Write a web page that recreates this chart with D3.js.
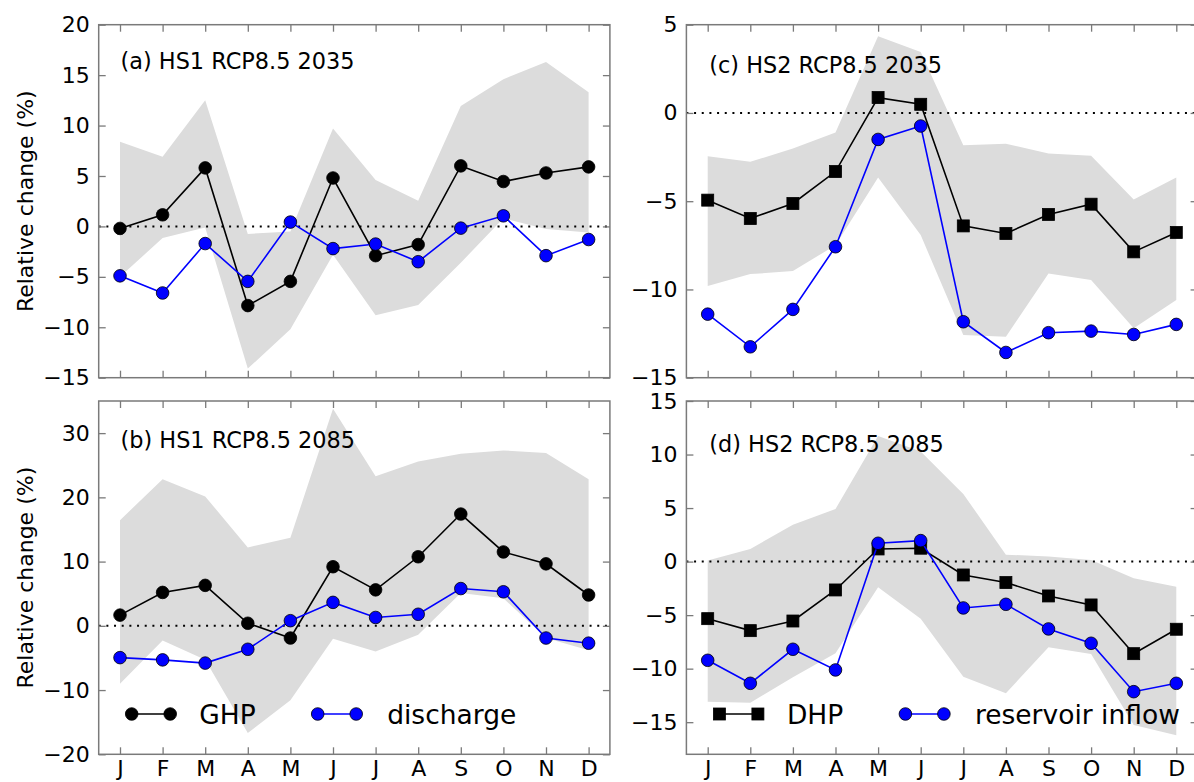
<!DOCTYPE html>
<html><head><meta charset="utf-8">
<script src="https://cdn.jsdelivr.net/npm/d3@7"></script>
<style>
body{margin:0;background:#fff}
svg{display:block}
text{font-family:"DejaVu Sans",sans-serif;fill:#000}
</style>
</head><body>
<svg id="chart" width="1194" height="782"></svg>
<script>
const months = ["J","F","M","A","M","J","J","A","S","O","N","D"];

// (a) HS1 RCP8.5 2035
const aGHP      = [-0.2, 1.15, 5.8, -7.85, -5.45, 4.8, -2.9, -1.8, 6.0, 4.45, 5.3, 5.9];
const aDischarge= [-4.9, -6.6, -1.7, -5.45, 0.43, -2.2, -1.75, -3.5, -0.17, 1.05, -2.9, -1.3];
const aBandHigh = [8.4, 6.9, 12.5, -0.75, -0.5, 9.7, 4.6, 2.55, 11.95, 14.6, 16.3, 13.3];
const aBandLow  = [-5.0, -1.15, -0.1, -14.1, -10.2, -2.8, -8.8, -7.8, -3.6, 0.8, -0.25, -0.6];

// (b) HS1 RCP8.5 2085
const bGHP      = [1.67, 5.2, 6.3, 0.4, -1.9, 9.2, 5.6, 10.75, 17.4, 11.5, 9.65, 4.8];
const bDischarge= [-4.95, -5.3, -5.8, -3.65, 0.8, 3.65, 1.3, 1.8, 5.8, 5.3, -1.9, -2.7];
const bBandHigh = [16.45, 22.8, 20.15, 12.2, 13.7, 33.8, 23.3, 25.6, 26.8, 27.3, 26.9, 22.8];
const bBandLow  = [-9.0, -2.3, -5.3, -16.7, -11.6, -2.0, -4.0, -1.4, 5.1, 4.3, -1.9, -3.8];

// (c) HS2 RCP8.5 2035
const cDHP      = [-4.94, -5.98, -5.13, -3.32, 0.87, 0.49, -6.4, -6.83, -5.75, -5.17, -7.87, -6.77];
const cInflow   = [-11.4, -13.25, -11.13, -7.58, -1.5, -0.74, -11.83, -13.57, -12.45, -12.36, -12.55, -11.98];
const cBandHigh = [-2.45, -2.77, -2.02, -1.11, 4.34, 3.45, -1.83, -1.74, -2.3, -2.43, -4.9, -3.66];
const cBandLow  = [-9.81, -9.13, -8.96, -7.49, -3.66, -6.92, -12.58, -12.68, -9.1, -9.47, -12.2, -10.6];

// (d) HS2 RCP8.5 2085
const dDHP      = [-5.33, -6.45, -5.55, -2.65, 1.18, 1.25, -1.25, -1.96, -3.21, -4.05, -8.6, -6.32];
const dInflow   = [-9.22, -11.37, -8.19, -10.12, 1.71, 1.96, -4.33, -3.99, -6.29, -7.63, -12.15, -11.37];
const dBandHigh = [0.1, 1.18, 3.43, 4.92, 11.74, 10.28, 6.32, 0.65, 0.47, 0.16, -1.56, -2.34];
const dBandLow  = [-13.08, -13.18, -10.8, -8.57, -2.4, -5.33, -10.75, -12.3, -8.0, -8.63, -15.26, -16.23];

const yTicksA = [-15, -10, -5, 0, 5, 10, 15, 20];
const yTicksB = [-20, -10, 0, 10, 20, 30];
const yTicksC = [-15, -10, -5, 0, 5];
const yTicksD = [-15, -10, -5, 0, 5, 10, 15];

const titles = ["(a) HS1 RCP8.5 2035", "(b) HS1 RCP8.5 2085", "(c) HS2 RCP8.5 2035", "(d) HS2 RCP8.5 2085"];
const yLabel = "Relative change (%)";
const legendA = ["GHP", "discharge"];
const legendB = ["DHP", "reservoir inflow"];

const svg = d3.select("#chart");
const SPINE = "#7a7a7a";
const BAND = "#dcdcdc";
const BLUE = "#0000ff";

const panels = [
  {x0: 98.7, x1: 609.9, y0: 24.7, y1: 377.7, dom: [-15, 20], ticks: yTicksA, s1: aGHP, s2: aDischarge, hi: aBandHigh, lo: aBandLow, title: titles[0], tx: 120.5, ty: 69.3, sq: false, left: true, bottom: false},
  {x0: 98.7, x1: 609.9, y0: 401, y1: 754.3, dom: [-20, 35], ticks: yTicksB, s1: bGHP, s2: bDischarge, hi: bBandHigh, lo: bBandLow, title: titles[1], tx: 120.5, ty: 448.3, sq: false, left: true, bottom: true, legend: legendA},
  {x0: 686.4, x1: 1197.6, y0: 24.7, y1: 377.7, dom: [-15, 5], ticks: yTicksC, s1: cDHP, s2: cInflow, hi: cBandHigh, lo: cBandLow, title: titles[2], tx: 709.3, ty: 73.3, sq: true, left: false, bottom: false},
  {x0: 686.4, x1: 1197.6, y0: 401, y1: 754.3, dom: [-18, 15], ticks: yTicksD, s1: dDHP, s2: dInflow, hi: dBandHigh, lo: dBandLow, title: titles[3], tx: 709.3, ty: 452, sq: true, left: false, bottom: true, legend: legendB}
];

const idx = d3.range(12);

function drawMarker(g, cx, cy, square, fill) {
  if (square) {
    g.append("rect").attr("x", cx - 6).attr("y", cy - 6).attr("width", 12).attr("height", 12)
      .attr("fill", fill).attr("stroke", "#000").attr("stroke-width", 0.8);
  } else {
    g.append("circle").attr("cx", cx).attr("cy", cy).attr("r", 6.3)
      .attr("fill", fill).attr("stroke", "#000").attr("stroke-width", 0.8);
  }
}

panels.forEach(p => {
  const x = d3.scaleLinear().domain([-0.5, 11.5]).range([p.x0, p.x1]);
  const y = d3.scaleLinear().domain(p.dom).range([p.y1, p.y0]);
  const g = svg.append("g");

  // band
  const area = d3.area().x(i => x(i)).y0(i => y(p.lo[i])).y1(i => y(p.hi[i]));
  g.append("path").datum(idx).attr("d", area).attr("fill", BAND).attr("stroke", "none");

  // zero line
  g.append("line").attr("x1", p.x0).attr("x2", p.x1).attr("y1", y(0)).attr("y2", y(0))
    .attr("stroke", "#000").attr("stroke-width", 2).attr("stroke-dasharray", "2,5.67");

  // series 1 (black)
  const line1 = d3.line().x(i => x(i)).y(i => y(p.s1[i]));
  g.append("path").datum(idx).attr("d", line1).attr("fill", "none").attr("stroke", "#000").attr("stroke-width", 1.6);
  idx.forEach(i => drawMarker(g, x(i), y(p.s1[i]), p.sq, "#000"));

  // series 2 (blue)
  const line2 = d3.line().x(i => x(i)).y(i => y(p.s2[i]));
  g.append("path").datum(idx).attr("d", line2).attr("fill", "none").attr("stroke", BLUE).attr("stroke-width", 1.6);
  idx.forEach(i => drawMarker(g, x(i), y(p.s2[i]), false, BLUE));

  // axes
  const ax = svg.append("g");
  const bottomAxis = d3.axisBottom(x).tickValues(idx).tickSizeInner(-7).tickSizeOuter(0).tickPadding(6)
    .tickFormat(p.bottom ? (i => months[i]) : "");
  ax.append("g").attr("transform", `translate(0,${p.y1})`).call(bottomAxis);
  const topAxis = d3.axisTop(x).tickValues(idx).tickSizeInner(-7).tickSizeOuter(0).tickFormat("");
  ax.append("g").attr("transform", `translate(0,${p.y0})`).call(topAxis);
  const leftAxis = d3.axisLeft(y).tickValues(p.ticks).tickSizeInner(-7).tickSizeOuter(0).tickPadding(9)
    .tickFormat(v => (v < 0 ? "\u2212" + Math.abs(v) : String(v)));
  ax.append("g").attr("transform", `translate(${p.x0},0)`).call(leftAxis);
  const rightAxis = d3.axisRight(y).tickValues(p.ticks).tickSizeInner(-7).tickSizeOuter(0).tickFormat("");
  ax.append("g").attr("transform", `translate(${p.x1},0)`).call(rightAxis);
  ax.selectAll(".domain").remove();
  ax.selectAll(".tick line").attr("stroke", SPINE).attr("stroke-width", 1.3);
  ax.selectAll(".tick text").attr("font-size", 22).attr("font-family", "DejaVu Sans").attr("fill", "#000");

  // frame
  ax.append("rect").attr("x", p.x0).attr("y", p.y0).attr("width", p.x1 - p.x0).attr("height", p.y1 - p.y0)
    .attr("fill", "none").attr("stroke", SPINE).attr("stroke-width", 1.5);

  // title
  svg.append("text").attr("x", p.tx).attr("y", p.ty).attr("font-size", 22.4).text(p.title);

  // y label
  if (p.left) {
    const cy = (p.y0 + p.y1) / 2;
    svg.append("text").attr("transform", `translate(33,${cy}) rotate(-90)`)
      .attr("text-anchor", "middle").attr("font-size", 22).text(yLabel);
  }

  // legend
  if (p.legend) {
    const ly = 714;
    const lg = svg.append("g");
    const ox = p.x0;
    const items = [
      {x1: ox + 33, x2: ox + 71.5, tx: ox + 100.5, color: "#000", sq: p.sq, label: p.legend[0]},
      {x1: ox + 219, x2: ox + 257.5, tx: ox + 288.5, color: BLUE, sq: false, label: p.legend[1]}
    ];
    items.forEach(it => {
      lg.append("line").attr("x1", it.x1).attr("x2", it.x2).attr("y1", ly).attr("y2", ly)
        .attr("stroke", it.color).attr("stroke-width", 1.6);
      drawMarker(lg, it.x1, ly, it.sq, it.color);
      drawMarker(lg, it.x2, ly, it.sq, it.color);
      lg.append("text").attr("x", it.tx).attr("y", ly + 9.5).attr("font-size", 26.5).text(it.label);
    });
  }
});
</script>
</body></html>
